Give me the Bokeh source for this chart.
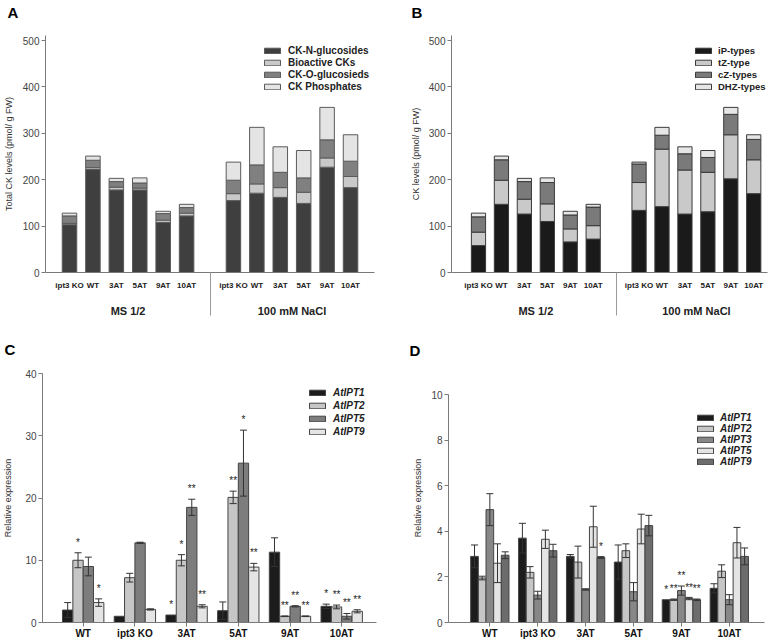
import numpy as np
from bokeh.plotting import figure
from bokeh.models import (ColumnDataSource, FixedTicker, LinearAxis, Range1d, Whisker, TeeHead,
                          Legend, LegendItem)
from bokeh.layouts import column, row
from bokeh.embed import file_html
from bokeh.resources import INLINE
from bokeh.core.properties import value

FONT = "Liberation Sans"

# ---------------- data ----------------
strains = ["ipt3 KO", "WT", "3AT", "5AT", "9AT", "10AT"]
conditions = ["MS 1/2", "100 mM NaCl"]

# Panel A (pmol/g FW): first six = MS 1/2, last six = 100 mM NaCl
ck_n_glucosides = [103, 222, 178, 178, 108, 122, 155, 171, 162, 149, 227, 183]
bioactive_cks = [3, 4, 6, 4, 5, 6, 15, 20, 21, 24, 20, 24]
ck_o_glucosides = [16, 16, 12, 11, 14, 12, 29, 41, 33, 31, 39, 33]
ck_phosphates = [6, 9, 7, 11, 5, 7, 39, 81, 55, 59, 70, 57]
a_names = ["CK-N-glucosides", "Bioactive CKs", "CK-O-glucosieds", "CK Phosphates"]

# Panel B
ip_types = [58, 147, 126, 110, 66, 72, 134, 142, 126, 131, 202, 170]
tz_type = [29, 52, 32, 38, 28, 29, 60, 124, 95, 85, 95, 73]
cz_types = [33, 44, 38, 46, 30, 40, 40, 30, 35, 32, 44, 44]
dhz_types = [8, 8, 7, 10, 8, 6, 4, 17, 15, 15, 15, 10]
b_names = ["iP-types", "tZ-type", "cZ-types", "DHZ-types"]

ck_ticks = [0, 100, 200, 300, 400, 500]

# Panel C
genotypes = ["WT", "ipt3 KO", "3AT", "5AT", "9AT", "10AT"]
c_genes = ["AtIPT1", "AtIPT2", "AtIPT5", "AtIPT9"]
c_ipt1 = [2.0, 1.0, 1.2, 1.9, 11.3, 2.6]
c_ipt1_err = [1.2, 0.0, 0.0, 1.4, 2.3, 0.35]
c_ipt1_sig = ["", "", "*", "", "", "*"]
c_ipt2 = [10.0, 7.2, 10.0, 20.1, 1.0, 2.5]
c_ipt2_err = [1.2, 0.7, 0.9, 1.0, 0.05, 0.3]
c_ipt2_sig = ["*", "", "*", "**", "**", "**"]
c_ipt5 = [9.0, 12.8, 18.5, 25.6, 2.6, 1.0]
c_ipt5_err = [1.5, 0.1, 1.3, 5.3, 0.1, 0.45]
c_ipt5_sig = ["", "", "**", "*", "**", "**"]
c_ipt9 = [3.2, 2.1, 2.6, 8.9, 1.0, 1.8]
c_ipt9_err = [0.6, 0.1, 0.25, 0.6, 0.05, 0.25]
c_ipt9_sig = ["*", "", "**", "**", "**", "**"]
c_ticks = [0, 10, 20, 30, 40]

# Panel D
d_genes = ["AtIPT1", "AtIPT2", "AtIPT3", "AtIPT5", "AtIPT9"]
d_ipt1 = [2.9, 3.7, 2.9, 2.65, 1.0, 1.5]
d_ipt1_err = [0.5, 0.65, 0.08, 0.75, 0.0, 0.2]
d_ipt1_sig = ["", "", "", "", "*", ""]
d_ipt2 = [1.95, 2.2, 2.65, 3.15, 1.0, 2.25]
d_ipt2_err = [0.08, 0.25, 0.7, 0.3, 0.03, 0.28]
d_ipt2_sig = ["", "", "", "", "**", ""]
d_ipt3 = [4.95, 1.2, 1.45, 1.35, 1.4, 1.0]
d_ipt3_err = [0.7, 0.17, 0.03, 0.4, 0.2, 0.22]
d_ipt3_sig = ["", "", "", "", "**", ""]
d_ipt5 = [2.6, 3.65, 4.2, 4.1, 1.05, 3.5]
d_ipt5_err = [0.85, 0.4, 0.9, 0.65, 0.05, 0.67]
d_ipt5_sig = ["", "", "", "", "**", ""]
d_ipt9 = [2.95, 3.15, 2.85, 4.25, 1.0, 2.9]
d_ipt9_err = [0.15, 0.28, 0.04, 0.45, 0.03, 0.37]
d_ipt9_sig = ["", "", "*", "", "**", ""]
d_ticks = [0, 2, 4, 6, 8, 10]

# ---------------- helpers ----------------
AXIS = "#7a7a7a"
ROW_H = 11


def base_fig(fw, fh, bl, br, bt, bb, xr, yr, letter, letter_off, title_gap):
    p = figure(frame_width=fw, frame_height=fh, x_range=Range1d(*xr), y_range=Range1d(*yr),
               output_backend="svg", toolbar_location=None, tools="",
               min_border_left=bl, min_border_right=br, min_border_top=bt, min_border_bottom=bb)
    p.xgrid.visible = False
    p.ygrid.visible = False
    p.outline_line_color = None
    p.background_fill_color = "white"
    p.border_fill_color = "white"
    # panel letter as the title; the blank second line lifts it above the frame
    p.title.text = letter + "\n "
    p.title.text_font = FONT
    p.title.text_font_style = "bold"
    p.title.text_font_size = "15px"
    p.title.text_line_height = 0.8
    p.title.text_color = "black"
    p.title.align = "left"
    p.title.offset = letter_off
    p.title.standoff = title_gap
    return p


def style_y(p, ticks, label, label_standoff, bounds=None):
    ax = p.yaxis[0]
    ax.ticker = FixedTicker(ticks=ticks)
    if bounds is not None:
        ax.bounds = bounds
    ax.axis_line_color = AXIS
    ax.major_tick_line_color = AXIS
    ax.major_tick_out = 4
    ax.major_tick_in = 0
    ax.minor_tick_line_color = None
    ax.minor_tick_out = 0
    ax.major_label_standoff = 2
    ax.major_label_text_font = FONT
    ax.major_label_text_font_size = "10px"
    ax.major_label_text_color = "#444444"
    ax.axis_label = label
    ax.axis_label_text_font = FONT
    ax.axis_label_text_font_style = "normal"
    ax.axis_label_text_font_size = "9px"
    ax.axis_label_text_color = "#333333"
    ax.axis_label_standoff = label_standoff


def add_legend(p, items, x, top_off, frame_h, glyph_w, gap, standoff, style, size="10px"):
    n = len(items)
    height = n * ROW_H + (n - 1) * gap
    lg = Legend(items=items, location=(int(x), int(round(frame_h - top_off - height))),
                orientation="vertical",
                glyph_width=glyph_w, glyph_height=7, label_height=7, spacing=gap,
                padding=0, margin=0, label_standoff=standoff,
                border_line_color=None, background_fill_alpha=0,
                label_text_font=FONT, label_text_font_style=style,
                label_text_font_size=size, label_text_color="#222222")
    p.add_layout(lg)


def stacked_panel(letter, ylabel, names, series, colors, line_color, fw, bl, br, xr, x_end,
                  leg_x, leg_standoff, leg_size, letter_off, ylab_standoff):
    fh, bt, bb = 237, 35, 58
    p = base_fig(fw, fh, bl, br, bt, bb, xr, (0, 511), letter, letter_off, 2)
    slots = [i + 7 * c for c in range(len(conditions)) for i in range(len(strains))]
    data = dict(x=slots)
    keys = []
    for k, s in enumerate(series):
        data["s%d" % k] = s
        keys.append("s%d" % k)
    src = ColumnDataSource(data)
    rs = p.vbar_stack(keys, x="x", width=0.62, source=src, fill_color=colors,
                      line_color=line_color, line_width=1)
    style_y(p, ck_ticks, ylabel, ylab_standoff)
    ax = p.xaxis[0]
    ax.bounds = (xr[0], x_end)
    ax.ticker = FixedTicker(ticks=slots, minor_ticks=[6])
    ax.major_label_overrides = {s: strains[i % len(strains)] for i, s in enumerate(slots)}
    ax.axis_line_color = AXIS
    ax.major_tick_line_color = None
    ax.major_tick_out = 0
    ax.major_tick_in = 0
    ax.minor_tick_line_color = "#9a9a9a"
    ax.minor_tick_out = 43
    ax.minor_tick_in = 0
    ax.major_label_standoff = -35
    ax.major_label_text_font = FONT
    ax.major_label_text_font_style = "bold"
    ax.major_label_text_font_size = "8px"
    ax.major_label_text_color = "#222222"
    grp = LinearAxis(ticker=FixedTicker(ticks=[2.5, 9.5]),
                     major_label_overrides={2.5: conditions[0], 9.5: conditions[1]},
                     axis_line_color=None, major_tick_line_color=None,
                     minor_tick_line_color=None, minor_tick_out=0, minor_tick_in=0,
                     major_tick_out=0, major_tick_in=0, major_label_standoff=12,
                     major_label_text_font=FONT, major_label_text_font_style="bold",
                     major_label_text_font_size="11px", major_label_text_color="#222222")
    p.add_layout(grp, "below")
    items = [LegendItem(label=n, renderers=[r]) for n, r in zip(names, rs)]
    add_legend(p, items, leg_x, 10.5, fh, 20, 1, leg_standoff, "bold", leg_size)
    return p


def grouped_panel(letter, genes, means, errs, sigs, colors, fw, bl, br, xr, yr, ybounds, ticks,
                  leg_x, leg_top, gap, standoff, pad, letter_off, title_gap, ylab_standoff):
    fh, bt, bb = 249, 43, 19
    p = base_fig(fw, fh, bl, br, bt, bb, xr, yr, letter, letter_off, title_gap)
    n = len(genes)
    bw = 0.8 / n
    idx = np.arange(len(genotypes))
    items = []
    star_x, star_y, star_t = [], [], []
    for k in range(n):
        xs = idx + (k - (n - 1) / 2) * bw
        src = ColumnDataSource(dict(x=xs, top=means[k]))
        r = p.vbar(x="x", top="top", width=bw, source=src, fill_color=colors[k],
                   line_color="#444444", line_width=1)
        items.append(LegendItem(label=genes[k], renderers=[r]))
        keep = [i for i, e in enumerate(errs[k]) if e > 0]
        wsrc = ColumnDataSource(dict(base=[xs[i] for i in keep],
                                     upper=[means[k][i] + errs[k][i] for i in keep],
                                     lower=[means[k][i] - errs[k][i] for i in keep]))
        p.add_layout(Whisker(source=wsrc, base="base", upper="upper", lower="lower",
                             line_color="#333333", line_width=1, level="annotation",
                             upper_head=TeeHead(size=7, line_color="#333333", line_width=1),
                             lower_head=TeeHead(size=7, line_color="#333333", line_width=1)))
        for i, s in enumerate(sigs[k]):
            if s:
                star_x.append(xs[i])
                star_y.append(means[k][i] + errs[k][i] + pad)
                star_t.append(s)
    p.text(x=star_x, y=star_y, text=star_t, text_align="center", text_baseline="middle",
           text_font=value(FONT), text_font_size="10px", text_color=value("#222222"))
    style_y(p, ticks, "Relative expression", ylab_standoff, ybounds)
    ax = p.xaxis[0]
    ax.ticker = FixedTicker(ticks=list(range(len(genotypes))))
    ax.major_label_overrides = {i: g for i, g in enumerate(genotypes)}
    ax.axis_line_color = AXIS
    ax.major_tick_line_color = AXIS
    ax.major_tick_out = 4
    ax.major_tick_in = 0
    ax.minor_tick_line_color = None
    ax.minor_tick_out = 0
    ax.major_label_standoff = 1
    ax.major_label_text_font = FONT
    ax.major_label_text_font_style = "bold"
    ax.major_label_text_font_size = "10px"
    ax.major_label_text_color = "#111111"
    add_legend(p, items, leg_x, leg_top, fh, 20, gap, standoff, "bold italic")
    return p


pA = stacked_panel("A", "Total CK levels (pmol/ g FW)", a_names,
                   [ck_n_glucosides, bioactive_cks, ck_o_glucosides, ck_phosphates],
                   ["#3f3f3f", "#c9c9c9", "#808080", "#e4e4e4"], "#5a5a5a",
                   334, 41, 15, (-1.025, 13.237), 13.02, 217, 6, "10px", -38, 6)
pB = stacked_panel("B", "CK levels (pmol/ g FW)", b_names,
                   [ip_types, tz_type, cz_types, dhz_types],
                   ["#1a1a1a", "#c9c9c9", "#7a7a7a", "#e6e6e6"], "#3a3a3a",
                   316, 57, 15, (-1.177, 12.60), 12.60, 242, 5, "9.5px", -40, 5)

pC = grouped_panel("C", c_genes, [c_ipt1, c_ipt2, c_ipt5, c_ipt9],
                   [c_ipt1_err, c_ipt2_err, c_ipt5_err, c_ipt9_err],
                   [c_ipt1_sig, c_ipt2_sig, c_ipt5_sig, c_ipt9_sig],
                   ["#1c1c1c", "#c6c6c6", "#7d7d7d", "#e4e4e4"],
                   334, 41, 15, (-0.787, 5.673), (0, 40), None, c_ticks,
                   265, 13.7, 2, 6, 1.7, -38, 4, 9)
pD = grouped_panel("D", d_genes, [d_ipt1, d_ipt2, d_ipt3, d_ipt5, d_ipt9],
                   [d_ipt1_err, d_ipt2_err, d_ipt3_err, d_ipt5_err, d_ipt9_err],
                   [d_ipt1_sig, d_ipt2_sig, d_ipt3_sig, d_ipt5_sig, d_ipt9_sig],
                   ["#1c1c1c", "#c6c6c6", "#878787", "#e4e4e4", "#6c6c6c"],
                   316, 57, 15, (-0.863, 5.735), (0, 10 * 249 / 228), (0, 10), d_ticks,
                   247, 39.2, 0, 5, 0.45, -39, 2, 5)

layout = column(row(pA, pB), row(pC, pD))
open("out.html", "w").write(file_html(layout, INLINE))
